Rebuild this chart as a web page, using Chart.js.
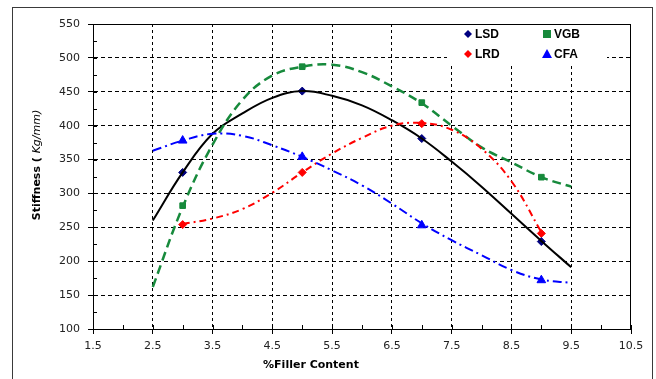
<!DOCTYPE html>
<html>
<head>
<meta charset="utf-8">
<script src="https://cdn.jsdelivr.net/npm/chart.js@4/dist/chart.umd.min.js"></script>
<style>
  html, body { margin: 0; padding: 0; background: #fff; }
  #wrap { width: 656px; height: 379px; }
</style>
</head>
<body>
<div id="wrap"><canvas id="stiffChart" width="656" height="379"></canvas></div>
<script>
// smoothed trend curves, every 0.5 %
const curveX = [2.5, 3, 3.5, 4, 4.5, 5, 5.5, 6, 6.5, 7, 7.5, 8, 8.5, 9, 9.5];
const lrdCurveX = [3, 3.5, 4, 4.5, 5, 5.5, 6, 6.5, 7, 7.5, 8, 8.5, 9];
const lsdCurve = [260, 331, 388, 418, 441, 451, 444, 430, 408, 381, 347, 310, 270, 230, 191];
const vgbCurve = [162, 280, 372, 438, 474, 487, 490, 479, 458, 433, 400, 368, 346, 324, 310];
const lrdCurve = [255, 263, 277, 301, 331, 359, 382, 400, 404, 394, 366, 318, 243];
const cfaCurve = [363, 378, 388, 385, 371, 354, 334, 312, 285, 256, 231, 209, 187, 173, 168];

// measured points
const fillerPct = [3, 5, 7, 9];
const lsdPts = [331, 451, 381, 229];
const vgbPts = [282, 487, 434, 324];
const lrdPts = [254, 331, 403, 241];
const cfaPts = [378, 354, 253, 172];

const seriesNames = ['LSD', 'VGB', 'LRD', 'CFA'];

const FONT = '"DejaVu Sans", "Liberation Sans", sans-serif';

function pairs(xs, ys) {
    return xs.map((x, i) => ({ x: x, y: ys[i] }));
}

function curveSet(xs, ys, color, dash, width) {
    return {
        label: '',
        data: pairs(xs, ys),
        showLine: true,
        borderColor: color,
        borderWidth: width,
        borderDash: dash,
        pointRadius: 0,
        tension: 0.4,
        fill: false
    };
}

function markerSet(name, ys, color, style, r) {
    return {
        label: name,
        data: pairs(fillerPct, ys),
        showLine: false,
        backgroundColor: color,
        borderColor: color,
        borderWidth: 1,
        pointStyle: style,
        pointRadius: r
    };
}

// frame, minor ticks, axis titles, legend
const extrasPlugin = {
    id: 'extras',
    afterDraw(chart) {
        const ctx = chart.ctx;
        const a = chart.chartArea;
        const xs = chart.scales.x, ys = chart.scales.y;
        ctx.save();

        // outer chart border
        ctx.strokeStyle = '#3a3a3a';
        ctx.lineWidth = 1;
        ctx.strokeRect(12.5, 7.5, 640, 380);

        // top + right of plot frame
        ctx.strokeStyle = '#000';
        ctx.beginPath();
        ctx.moveTo(a.left, Math.round(a.top) + 0.5);
        ctx.lineTo(a.right, Math.round(a.top) + 0.5);
        ctx.moveTo(Math.round(a.right) - 0.5, a.top);
        ctx.lineTo(Math.round(a.right) - 0.5, a.bottom);
        ctx.stroke();

        // inner tick marks, minor and major
        ctx.beginPath();
        for (let v = 1.5; v <= 10.5; v += 0.5) {
            const px = Math.round(xs.getPixelForValue(v)) + 0.5;
            ctx.moveTo(px, a.bottom);
            ctx.lineTo(px, a.bottom - 4);
        }
        for (let v = 100; v <= 550; v += 25) {
            const py = Math.round(ys.getPixelForValue(v)) + 0.5;
            ctx.moveTo(a.left, py);
            ctx.lineTo(a.left + 4, py);
        }
        ctx.stroke();

        // x axis title
        ctx.fillStyle = '#000';
        ctx.font = 'bold 11px ' + FONT;
        ctx.textAlign = 'center';
        ctx.textBaseline = 'middle';
        ctx.fillText('%Filler Content', 311, 365);

        // y axis title, mixed styles
        const partA = 'Stiffness ( ';
        const partB = 'Kg/mm)';
        ctx.font = 'bold 11px ' + FONT;
        const wA = ctx.measureText(partA).width;
        ctx.font = 'oblique 11px ' + FONT;
        const wB = ctx.measureText(partB).width;
        ctx.translate(37, 165);
        ctx.rotate(-Math.PI / 2);
        ctx.textAlign = 'left';
        ctx.font = 'bold 11px ' + FONT;
        ctx.fillText(partA, -(wA + wB) / 2, 0);
        ctx.font = 'oblique 11px ' + FONT;
        ctx.fillText(partB, -(wA + wB) / 2 + wA, 0);
        ctx.setTransform(1, 0, 0, 1, 0, 0);

        // legend
        ctx.fillStyle = '#fff';
        ctx.fillRect(447, 25, 160, 38);
        const slots = [[468, 34], [547, 34], [468, 54], [547, 54]];
        const markers = chart.data.datasets.filter(d => d.label);
        markers.forEach((d, i) => {
            const [lx, ly] = slots[i];
            ctx.fillStyle = d.backgroundColor;
            ctx.beginPath();
            if (d.pointStyle === 'rectRot') {
                ctx.moveTo(lx, ly - 4); ctx.lineTo(lx + 4, ly); ctx.lineTo(lx, ly + 4); ctx.lineTo(lx - 4, ly);
            } else if (d.pointStyle === 'rect') {
                ctx.rect(lx - 4, ly - 4, 8, 8);
            } else {
                ctx.moveTo(lx, ly - 5); ctx.lineTo(lx + 5, ly + 4); ctx.lineTo(lx - 5, ly + 4);
            }
            ctx.closePath();
            ctx.fill();
            ctx.fillStyle = '#000';
            ctx.font = 'bold 12px "Liberation Sans", Arial, sans-serif';
            ctx.textAlign = 'left';
            ctx.textBaseline = 'middle';
            ctx.fillText(d.label, lx + 7, ly + 1);
        });
        ctx.restore();
    }
};

const gridColor = c => (c.tick && (c.index === 0 || c.index === c.chart.scales[c.scale.id].ticks.length - 1)) ? 'rgba(0,0,0,0)' : '#000';

new Chart(document.getElementById('stiffChart').getContext('2d'), {
    type: 'scatter',
    data: {
        datasets: [
            curveSet(curveX, cfaCurve, '#0000ff', [9, 4, 2, 4], 2),
            curveSet(lrdCurveX, lrdCurve, '#ff0000', [7, 4, 2, 4], 2),
            curveSet(curveX, vgbCurve, '#178a3c', [9, 5], 2.5),
            curveSet(curveX, lsdCurve, '#000000', [], 2),
            markerSet(seriesNames[0], lsdPts, '#000080', 'rectRot', 4),
            markerSet(seriesNames[1], vgbPts, '#178a3c', 'rect', 4),
            markerSet(seriesNames[2], lrdPts, '#ff0000', 'rectRot', 4),
            markerSet(seriesNames[3], cfaPts, '#0000ff', 'triangle', 5)
        ]
    },
    options: {
        responsive: false,
        animation: false,
        layout: { padding: { left: 12, top: 24, right: 25, bottom: 0 } },
        plugins: {
            legend: { display: false },
            tooltip: { enabled: false }
        },
        scales: {
            x: {
                type: 'linear',
                min: 1.5,
                max: 10.5,
                afterBuildTicks: s => { s.ticks = [1.5, 2.5, 3.5, 4.5, 5.5, 6.5, 7.5, 8.5, 9.5, 10.5].map(v => ({ value: v })); },
                afterFit: s => { s.height = 50; },
                ticks: {
                    color: '#222',
                    font: { family: FONT, size: 11 },
                    padding: 6,
                    maxRotation: 0,
                    callback: v => v.toFixed(1)
                },
                grid: { color: gridColor, lineWidth: 1, tickLength: 5, tickColor: '#000' },
                border: { display: true, color: '#000', width: 1, dash: [3, 3] }
            },
            y: {
                min: 100,
                max: 550,
                afterFit: s => { s.width = 81; },
                ticks: {
                    stepSize: 50,
                    color: '#222',
                    font: { family: FONT, size: 11 },
                    padding: 8
                },
                grid: { color: gridColor, lineWidth: 1, tickLength: 5, tickColor: '#000' },
                border: { display: true, color: '#000', width: 1, dash: [4, 3] }
            }
        }
    },
    plugins: [extrasPlugin]
});
</script>
</body>
</html>
